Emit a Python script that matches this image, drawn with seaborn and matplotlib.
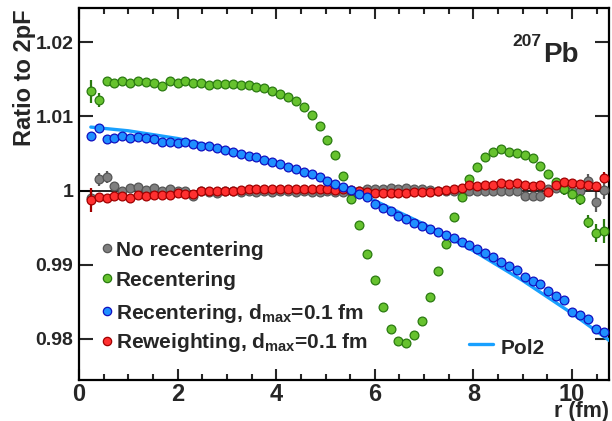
import numpy as np
import pandas as pd
import matplotlib
matplotlib.use("Agg")
import matplotlib.pyplot as plt
import seaborn as sns
from matplotlib.ticker import MultipleLocator, FixedLocator, FuncFormatter

# ---------------- data ----------------
r_fm = [0.24, 0.40, 0.56, 0.72, 0.88, 1.04, 1.20, 1.36, 1.52, 1.68, 1.84, 2.00, 2.16, 2.32,
        2.48, 2.64, 2.80, 2.96, 3.12, 3.28, 3.44, 3.60, 3.76, 3.92, 4.08, 4.24, 4.40, 4.56,
        4.72, 4.88, 5.04, 5.20, 5.36, 5.52, 5.68, 5.84, 6.00, 6.16, 6.32, 6.48, 6.64, 6.80,
        6.96, 7.12, 7.28, 7.44, 7.60, 7.76, 7.92, 8.08, 8.24, 8.40, 8.56, 8.72, 8.88, 9.04,
        9.20, 9.36, 9.52, 9.68, 9.84, 10.00, 10.16, 10.32, 10.48, 10.64]

no_recentering = [0.9990, 1.0015, 1.0018, 1.0006, 1.0000, 1.0003, 1.0005, 1.0001, 1.0004, 0.9999,
                  1.0002, 1.0000, 1.0000, 0.9993, 1.0000, 0.9998, 0.9997, 0.9999, 0.9999, 0.9998,
                  0.9999, 0.9998, 0.9999, 0.9998, 0.9999, 0.9999, 0.9998, 0.9999, 0.9998, 0.9998,
                  0.9999, 0.9998, 0.9998, 0.9998, 0.9999, 1.0002, 1.0002, 1.0002, 1.0003, 1.0002,
                  1.0003, 1.0002, 1.0002, 1.0001, 1.0000, 0.9999, 1.0000, 0.9999, 0.9999, 0.9999,
                  0.9999, 0.9999, 0.9999, 0.9999, 0.9999, 0.9992, 0.9992, 0.9993, 1.0002, 1.0004,
                  1.0002, 0.9999, 1.0000, 1.0013, 0.9985, 1.0001]
no_recentering_err = [0.0010, 0.0009, 0.0008] + [0.0] * 60 + [0.0009, 0.00135, 0.0012]

recentering = [1.01338, 1.01226, 1.01486, 1.01455, 1.01482, 1.01451, 1.01482, 1.01465, 1.01446,
               1.01411, 1.01473, 1.01455, 1.01478, 1.01459, 1.01446, 1.01432, 1.01442, 1.01442,
               1.01442, 1.01432, 1.01432, 1.01397, 1.01388, 1.01343, 1.01307, 1.01266, 1.01212,
               1.01122, 1.01014, 1.00878, 1.00681, 1.00486, 1.00203, 0.99892, 0.99536, 0.99141,
               0.98789, 0.98428, 0.98127, 0.97973, 0.97942, 0.98046, 0.98243, 0.98559, 0.98919,
               0.99276, 0.99649, 0.99919, 1.00158, 1.00324, 1.00451, 1.00525, 1.00565, 1.00523,
               1.00505, 1.00486, 1.00442, 1.00334, 1.00222, 1.00110, 1.00015, 0.99951, 0.99880,
               0.99581, 0.99432, 0.99455]
recentering_err = [0.0016, 0.00095] + [0.0] * 57 + [0.0006, 0.0007, 0.0007, 0.0008, 0.0009,
                                                   0.0012, 0.0016]

recentering_dmax = [1.00730, 1.00843, 1.00695, 1.00716, 1.00730, 1.00708, 1.00722, 1.00712,
                    1.00699, 1.00662, 1.00649, 1.00640, 1.00662, 1.00627, 1.00604, 1.00608,
                    1.00573, 1.00550, 1.00527, 1.00500, 1.00469, 1.00451, 1.00415, 1.00384,
                    1.00361, 1.00324, 1.00289, 1.00257, 1.00222, 1.00181, 1.00135, 1.00091,
                    1.00046, 1.00009, 0.99955, 0.99911, 0.99820, 0.99762, 0.99730, 0.99658,
                    0.99614, 0.99568, 0.99523, 0.99482, 0.99442, 0.99397, 0.99365, 0.99311,
                    0.99270, 0.99216, 0.99162, 0.99100, 0.99041, 0.98982, 0.98924, 0.98830,
                    0.98784, 0.98743, 0.98645, 0.98581, 0.98523, 0.98361, 0.98316, 0.98262,
                    0.98127, 0.98091]
recentering_dmax_err = [0.0006] + [0.0] * 65

reweighting_dmax = [0.99870, 0.99915, 0.99900, 0.99928, 0.99928, 0.99900, 0.99940, 0.99930,
                    0.99946, 0.99940, 0.99946, 0.99970, 0.99960, 0.99955, 1.00000, 1.00000,
                    1.00000, 1.00000, 1.00000, 1.00005, 1.00020, 1.00020, 1.00020, 1.00025,
                    1.00020, 1.00025, 1.00020, 1.00025, 1.00020, 1.00020, 1.00015, 1.00010,
                    1.00015, 1.00010, 1.00000, 0.99975, 0.99970, 0.99965, 0.99970, 0.99965,
                    0.99970, 0.99980, 0.99985, 0.99987, 1.00000, 1.00010, 1.00023, 1.00041,
                    1.00077, 1.00068, 1.00077, 1.00077, 1.00100, 1.00086, 1.00100, 1.00077,
                    1.00068, 1.00077, 0.99987, 1.00077, 1.00113, 1.00100, 1.00086, 1.00077,
                    1.00068, 1.00176]
reweighting_dmax_err = [0.0016] + [0.0] * 64 + [0.0007]

# Pol2 fit curve
pol2_r = [0.24, 1.0, 2.0, 3.0, 4.0, 5.0, 6.0, 7.0, 8.0, 9.0, 10.0, 10.8]
pol2_val = [1.00857, 1.00807, 1.00703, 1.00557, 1.00368, 1.00136, 0.99863, 0.99546,
            0.99187, 0.98785, 0.98341, 0.97955]

x_ticks = [0, 2, 4, 6, 8, 10]
y_ticks = [0.98, 0.99, 1.00, 1.01, 1.02]

series_labels = ["No recentering", "Recentering",
                 r"Recentering, d$_{\mathbf{max}}$=0.1 fm",
                 r"Reweighting, d$_{\mathbf{max}}$=0.1 fm"]

# ---------------- style ----------------
sns.set_theme(style="white")
plt.rcParams["font.family"] = ["Liberation Sans", "DejaVu Sans"]
plt.rcParams["font.weight"] = "bold"
plt.rcParams["mathtext.fontset"] = "custom"
plt.rcParams["mathtext.rm"] = "Liberation Sans:bold"
plt.rcParams["mathtext.bf"] = "Liberation Sans:bold"
plt.rcParams["mathtext.it"] = "Liberation Sans:bold"

fills = ["#7f7f7f", "#66c22e", "#1f8fff", "#ff3030"]
edges = ["#555555", "#2a7a10", "#1010c0", "#a00000"]
errc = ["#5a5a5a", "#2a7a10", "#1010c0", "#a00000"]
pol2_color = "#18a0ff"

fig = plt.figure(figsize=(6.12, 4.21), dpi=100)
ax = fig.add_axes([79 / 612, 1 - 380 / 421, 530 / 612, 372 / 421])

ax.axhline(1.0, color="black", lw=1.2, zorder=1)

all_series = [no_recentering, recentering, recentering_dmax, reweighting_dmax]
all_errs = [no_recentering_err, recentering_err, recentering_dmax_err, reweighting_dmax_err]
zorders = [3, 4, 6, 5]

for vals, errs, fc, ec, erc, z in zip(all_series, all_errs, fills, edges, errc, zorders):
    df = pd.DataFrame({"r": r_fm, "ratio": vals, "err": errs})
    sub = df[df["err"] > 0]
    if len(sub):
        ax.errorbar(sub["r"], sub["ratio"], yerr=sub["err"], fmt="none",
                    ecolor=erc, elinewidth=1.6, capsize=0, zorder=z - 0.5)
    sns.scatterplot(data=df, x="r", y="ratio", ax=ax, color=fc, edgecolor=ec,
                    linewidth=0.9, s=40, zorder=z, legend=False)

pol_df = pd.DataFrame({"r": pol2_r, "ratio": pol2_val})
sns.lineplot(data=pol_df, x="r", y="ratio", ax=ax, color=pol2_color, lw=2.4,
             zorder=5.5, legend=False)

ax.set_xlim(0, 10.75)
ax.set_ylim(0.97442, 1.02465)

ax.xaxis.set_major_locator(FixedLocator(x_ticks))
ax.xaxis.set_minor_locator(MultipleLocator(0.5))
ax.yaxis.set_major_locator(FixedLocator(y_ticks))
ax.yaxis.set_major_formatter(FuncFormatter(lambda v, p: "%g" % round(v, 2)))
ax.xaxis.set_major_formatter(FuncFormatter(lambda v, p: "%g" % v))

ax.tick_params(axis="x", which="major", direction="in", length=8, width=1.5,
               top=True, bottom=True, labelsize=17, pad=2)
ax.tick_params(axis="x", which="minor", direction="in", length=4, width=1.5,
               top=True, bottom=True)
ax.tick_params(axis="y", which="major", direction="in", length=10, width=1.5,
               left=True, right=True, labelsize=14, pad=4)
for lab in ax.get_xticklabels() + ax.get_yticklabels():
    lab.set_fontweight("bold")

for sp in ax.spines.values():
    sp.set_linewidth(1.6)
    sp.set_color("black")

ax.set_xlabel("r (fm)", fontsize=15.5, fontweight="bold", loc="right")
ax.xaxis.set_label_coords(1.0, -0.0985)
ax.xaxis.label.set_verticalalignment("baseline")
ax.set_ylabel("Ratio to 2pF", fontsize=17, fontweight="bold", loc="top")
ax.yaxis.set_label_coords(-0.0915, 0.995)
ax.yaxis.label.set_verticalalignment("baseline")

# nucleus label
ax.text(0.8755, 0.8556, "Pb", transform=ax.transAxes, fontsize=20,
        fontweight="bold", ha="left", va="baseline")
ax.text(0.8717, 0.8978, "207", transform=ax.transAxes, fontsize=12.5,
        fontweight="bold", ha="right", va="baseline")

# legend
marker_y = [0.354, 0.2734, 0.1855, 0.1048]
base_y = [0.3339, 0.2532, 0.1653, 0.0847]
for lab, fc, ec, my, by in zip(series_labels, fills, edges, marker_y, base_y):
    ax.scatter([0.0523], [my], s=36, color=fc, edgecolor=ec, linewidth=0.9,
               transform=ax.transAxes, zorder=7, clip_on=False)
    ax.text(0.0698, by, lab, transform=ax.transAxes, fontsize=15,
            fontweight="bold", ha="left", va="baseline", zorder=7)

ax.plot([0.7358, 0.7811], [0.0968, 0.0968], color=pol2_color, lw=2.4,
        transform=ax.transAxes, zorder=7)
ax.text(0.7962, 0.0699, "Pol2", transform=ax.transAxes, fontsize=15,
        fontweight="bold", ha="left", va="baseline", zorder=7)

fig.savefig("out.png", dpi=100)
